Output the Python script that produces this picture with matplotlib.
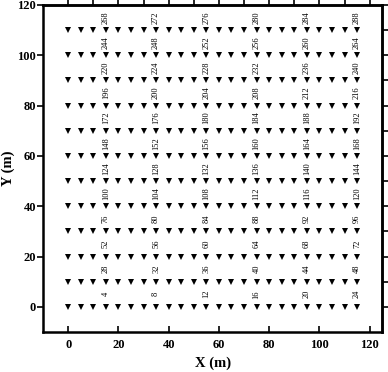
import matplotlib
matplotlib.use("Agg")
import matplotlib.pyplot as plt
import numpy as np

# Grid of sensor points
x_positions = list(range(0, 120, 5))      # 24 columns: 0..115
y_positions = list(range(0, 120, 10))     # 12 rows: 0..110
label_columns = [15, 35, 55, 75, 95, 115] # columns where point numbers are printed
x_ticks = [0, 20, 40, 60, 80, 100, 120]
y_ticks = [0, 20, 40, 60, 80, 100, 120]

plt.rcParams['font.family'] = ['Liberation Serif', 'DejaVu Serif']

fig = plt.figure(figsize=(3.88, 3.72), dpi=100)
ax = fig.add_axes([0.111, 0.1075, 0.874, 0.8795])

X, Y = np.meshgrid(x_positions, y_positions)
ax.plot(X.ravel(), Y.ravel(), linestyle='none', marker='v', markersize=3.9,
        color='black', markeredgewidth=0)

n_cols = len(x_positions)
for r, yv in enumerate(y_positions):
    for xv in label_columns:
        c = x_positions.index(xv)
        num = r * n_cols + c + 1
        ax.text(xv, yv + 5, str(num), rotation=90, ha='center', va='center',
                fontsize=6, color='black')

ax.set_xlim(-10, 125)
ax.set_ylim(-10, 120)
ax.set_xticks(x_ticks)
ax.set_yticks(y_ticks)
for lab in ax.get_xticklabels() + ax.get_yticklabels():
    lab.set_fontweight('bold')
    lab.set_fontsize(9)
ax.tick_params(axis='x', direction='in', length=4, width=1.2, pad=5)
ax.tick_params(axis='y', direction='out', length=4, width=1.2, pad=1)

for s in ax.spines.values():
    s.set_linewidth(1.8)

secx = ax.secondary_xaxis('top')
secx.set_xticks(list(range(0, 121, 10)))
secx.tick_params(direction='out', length=4, width=1.2, labeltop=False)
secx.spines['top'].set_linewidth(1.8)
secy = ax.secondary_yaxis('right')
secy.set_yticks(list(range(0, 121, 10)))
secy.tick_params(direction='out', length=4, width=1.2, labelright=False)
secy.spines['right'].set_linewidth(1.8)

ax.set_xlabel('X (m)', fontsize=10.5, fontweight='bold', labelpad=4)
ax.set_ylabel('Y (m)', fontsize=10.5, fontweight='bold', labelpad=2)

fig.savefig('out.png', dpi=100)
